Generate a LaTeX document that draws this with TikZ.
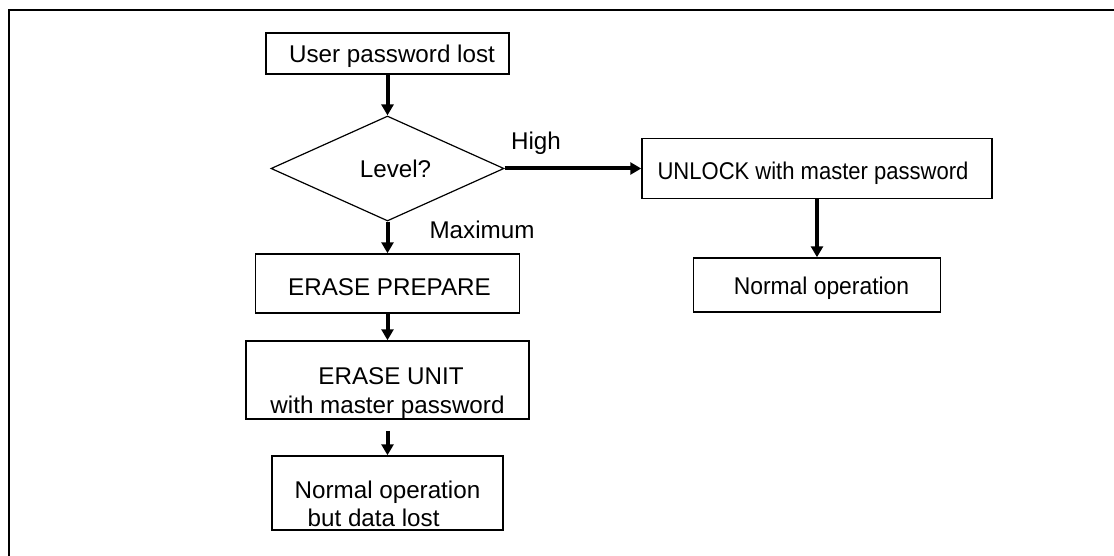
\documentclass[tikz,border=0pt]{standalone}
\usepackage{fontspec}
\setmainfont{Liberation Sans}
\usetikzlibrary{shapes.geometric,arrows.meta}
\begin{document}
\begin{tikzpicture}[x=0.5pt,y=-0.5pt,
  every node/.style={font=\fontsize{12.1}{14.5}\selectfont, inner sep=0pt},
  box/.style={draw, line width=0.75pt},
  decision/.style={draw, diamond, line width=0.6pt, minimum width=116.5pt, minimum height=52.5pt, aspect=2.2},
  flow/.style={line width=2pt, -{Triangle[length=5.5pt,width=6pt]}},
  frame/.style={line width=1pt}
]
\useasboundingbox (0,0) rectangle (1114,556);
\draw[frame] (8.5,556) -- (8.5,10.5) -- (1114,10.5);

\node[box, minimum width=121.5pt, minimum height=20.5pt] (top) at (387.5,53.5)
  {\raisebox{-4.6pt}[0pt][0pt]{\hspace*{4.5pt}User password lost}};
\node[decision] (dia) at (387.5,168.5) {\hspace*{8pt}Level?};
\node (high) at (536,143) {High};
\node[box, minimum width=175pt, minimum height=30pt] (unlock) at (817,168.5)
  {\raisebox{-5.4pt}[0pt][0pt]{\scalebox{0.91}[1]{UNLOCK with master password}\hspace*{4pt}}};
\node[box, minimum width=123.5pt, minimum height=27pt] (normal) at (817,285)
  {\raisebox{-5pt}[0pt][0pt]{\hspace*{4.5pt}\scalebox{0.945}[1]{Normal operation}}};
\node (max) at (482,230) {Maximum};
\node[box, minimum width=132pt, minimum height=29.5pt] (prep) at (387.5,283.5)
  {\raisebox{-5.75pt}[0pt][0pt]{\hspace*{2pt}ERASE PREPARE}};
\node[box, minimum width=141.5pt, minimum height=39pt] (unit) at (387.5,380)
  {\raisebox{-2pt}[0pt][0pt]{\begin{tabular}[t]{@{}c@{}}\hspace*{3.5pt}ERASE UNIT\\with master password\end{tabular}}};
\node[box, minimum width=115.5pt, minimum height=37pt] (lost) at (387.5,493)
  {\raisebox{-2.65pt}[0pt][0pt]{\begin{tabular}[t]{@{}l@{}}Normal operation\\[-0.3pt]\hspace*{6.5pt}but data lost\end{tabular}}};

\draw[flow] (top.south) -- (dia.north);
\draw[flow] (dia.east) -- (unlock.west);
\draw[flow] (unlock.south) -- (normal.north);
\draw[flow] (dia.south) -- (prep.north);
\draw[flow] (prep.south) -- (unit.north);
\draw[flow, shorten <=5.5pt] (unit.south) -- (lost.north);
\end{tikzpicture}
\end{document}
